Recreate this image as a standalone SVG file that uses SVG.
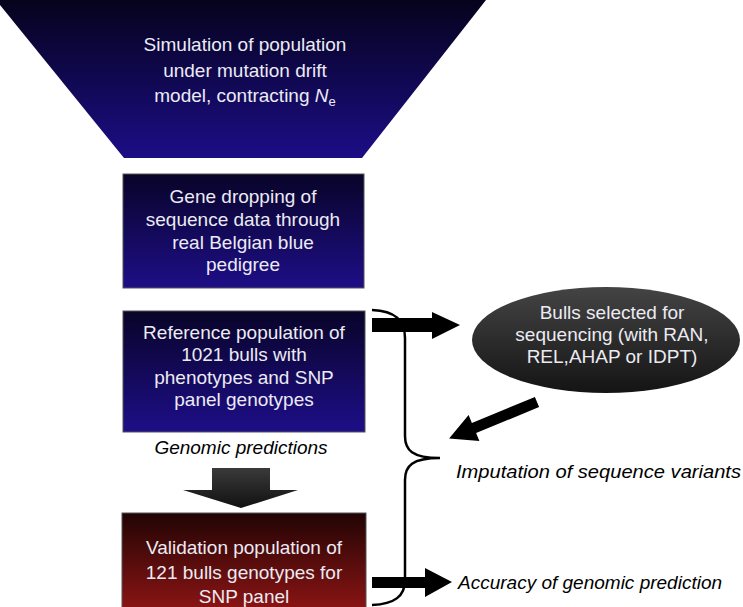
<svg xmlns="http://www.w3.org/2000/svg" width="743" height="607" viewBox="0 0 743 607">
<defs>
<linearGradient id="gBlue" x1="0" y1="0" x2="0" y2="1">
<stop offset="0" stop-color="#05031c"/>
<stop offset="1" stop-color="#1c0d86"/>
</linearGradient>
<linearGradient id="gBox" x1="0" y1="0" x2="0" y2="1">
<stop offset="0" stop-color="#080428"/>
<stop offset="1" stop-color="#1e0e88"/>
</linearGradient>
<linearGradient id="gRed" x1="0" y1="0" x2="0" y2="1">
<stop offset="0" stop-color="#220404"/>
<stop offset="1" stop-color="#8a1414"/>
</linearGradient>
<linearGradient id="gGray" x1="0" y1="0" x2="0" y2="1">
<stop offset="0" stop-color="#444444"/>
<stop offset="1" stop-color="#141414"/>
</linearGradient>
<linearGradient id="gArrow" x1="0" y1="0" x2="0" y2="1">
<stop offset="0" stop-color="#3a3a3a"/>
<stop offset="1" stop-color="#111111"/>
</linearGradient>
<style>
.t{font-family:"Liberation Sans",Arial,Helvetica,sans-serif;font-size:19px;fill:#ecebf3;text-anchor:middle}
.i{font-family:"Liberation Sans",Arial,Helvetica,sans-serif;font-size:19px;font-style:italic;fill:#000}
.box{stroke:#555;stroke-width:1}
.brace{fill:none;stroke:#000;stroke-width:2.5}
</style>
</defs>

<g id="simulation">
<polygon points="-4,0 486,0 362,158 124,158" fill="url(#gBlue)"/>
<text class="t" x="245" y="51">Simulation of population</text>
<text class="t" x="245" y="77">under mutation drift</text>
<text class="t" x="245" y="102">model, contracting <tspan font-style="italic">N</tspan><tspan font-size="13" dy="4">e</tspan></text>
</g>

<g id="gene-dropping">
<rect class="box" x="123" y="174" width="241" height="114" fill="url(#gBox)"/>
<text class="t" x="243" y="203">Gene dropping of</text>
<text class="t" x="243" y="226">sequence data through</text>
<text class="t" x="243" y="249">real Belgian blue</text>
<text class="t" x="243" y="271">pedigree</text>
</g>

<g id="reference">
<rect class="box" x="123" y="311" width="242" height="121" fill="url(#gBox)"/>
<text class="t" x="244" y="339">Reference population of</text>
<text class="t" x="244" y="361">1021 bulls with</text>
<text class="t" x="244" y="384">phenotypes and SNP</text>
<text class="t" x="244" y="406">panel genotypes</text>
</g>

<g id="genomic-predictions">
<text class="i" x="241" y="454" text-anchor="middle">Genomic predictions</text>
</g>

<g id="validation">
<rect class="box" x="122" y="513" width="244" height="96" fill="url(#gRed)"/>
<text class="t" x="244" y="554">Validation population of</text>
<text class="t" x="244" y="579">121 bulls genotypes for</text>
<text class="t" x="244" y="603">SNP panel</text>
</g>

<g id="bulls-selected">
<ellipse cx="606" cy="340" rx="134" ry="53" fill="url(#gGray)"/>
<text class="t" x="612" y="319">Bulls selected for</text>
<text class="t" x="612" y="341">sequencing (with RAN,</text>
<text class="t" x="612" y="363">REL,AHAP or IDPT)</text>
</g>

<g id="imputation">
<text class="i" x="456" y="478" font-size="20" textLength="285" lengthAdjust="spacingAndGlyphs">Imputation of sequence variants</text>
</g>

<g id="accuracy">
<text class="i" x="458" y="589">Accuracy of genomic prediction</text>
</g>

<g id="connectors">
<polygon points="212,468 270,468 270,490 298,490 241,508 183,490 212,490" fill="url(#gArrow)"/>
<path class="brace" d="M372,310 C395,311 405,320 405,338 L405,436 C405,450 412,458 440,458 C412,458 405,466 405,480 L405,580 C405,596 395,604 372,605"/>
<polygon points="372,318 432,318 432,312 460,325 432,339 432,332 372,332" fill="#000"/>
<polygon points="534.9,396.9 471.9,422.9 468.6,415.1 449.1,438.4 479.4,440.9 476.1,433.1 539.1,407.1" fill="#000"/>
<polygon points="372,577 425,577 425,568 452,582 425,597 425,588 372,588" fill="#000"/>
</g>
</svg>
